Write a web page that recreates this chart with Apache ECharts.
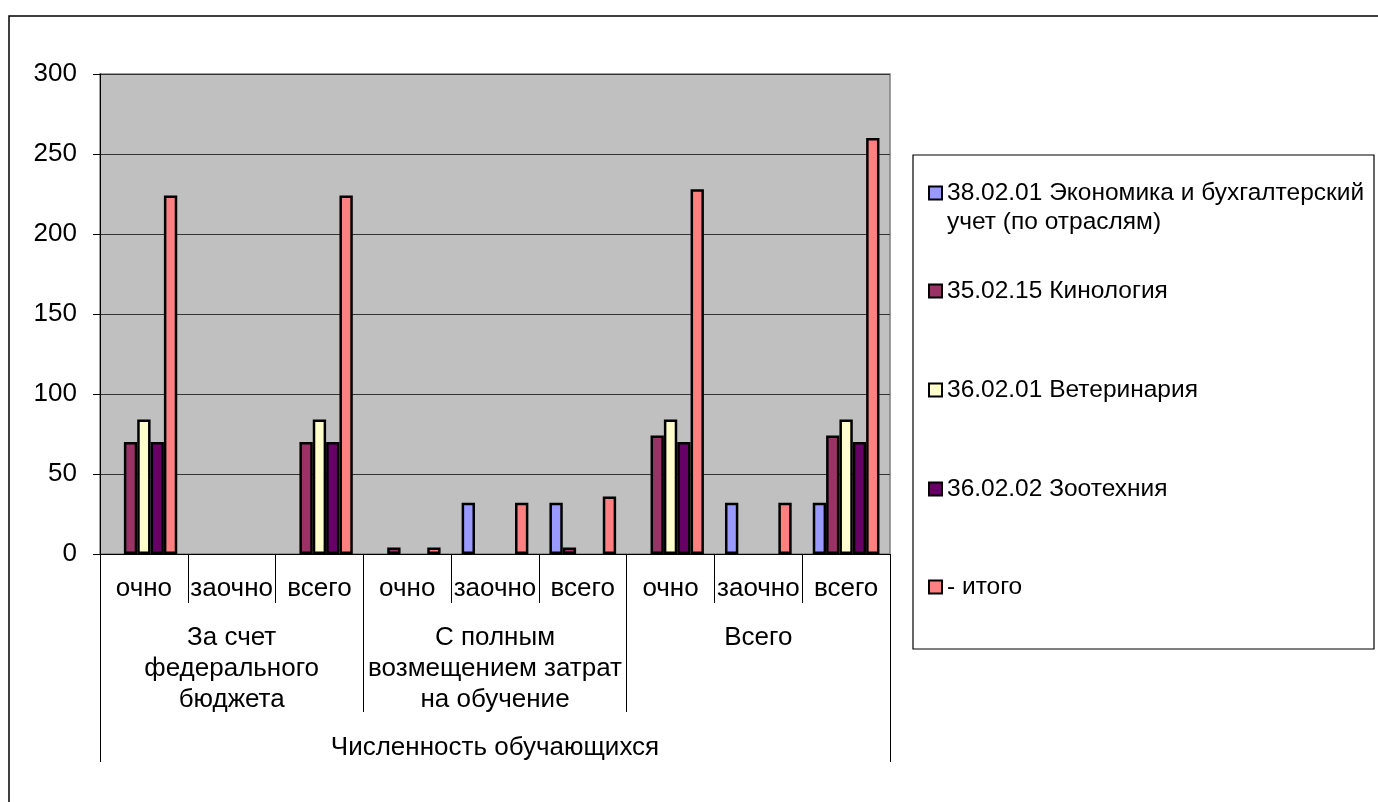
<!DOCTYPE html>
<html>
<head>
<meta charset="utf-8">
<script src="https://cdn.jsdelivr.net/npm/echarts@6/dist/echarts.min.js"></script>
<style>
html,body{margin:0;padding:0;background:#fff;}
#c{width:1378px;height:802px;}
</style>
</head>
<body>
<div id="c"></div>
<script>
// ---- data ----
const categories = ['очно','заочно','всего','очно','заочно','всего','очно','заочно','всего'];
const groups = ['За счет\nфедерального\nбюджета','С полным\nвозмещением затрат\nна обучение','Всего'];
const topLevel = ['Численность обучающихся'];
const seriesNames = [
  '38.02.01 Экономика и бухгалтерский учет (по отраслям)',
  '35.02.15 Кинология',
  '36.02.01 Ветеринария',
  '36.02.02 Зоотехния',
  '- итого'
];
const economics  = [0, 0, 0,   0, 32, 32,   0, 32, 32];
const kinology   = [70, 0, 70, 4, 0, 4,     74, 0, 74];
const veterinary = [84, 0, 84, 0, 0, 0,     84, 0, 84];
const zootechny  = [70, 0, 70, 0, 0, 0,     70, 0, 70];
const total      = [224, 0, 224, 4, 32, 36, 228, 32, 260];
const yTicks = [0, 50, 100, 150, 200, 250, 300];

const seriesValues = [economics, kinology, veterinary, zootechny, total];
const colors = ['#9999FF', '#993366', '#FFFFCC', '#660066', '#FF8080'];

const FONT = "'Liberation Sans', Arial, sans-serif";
const FS = 26;

const series = seriesNames.map((n, i) => ({
  name: n,
  type: 'bar',
  xAxisIndex: 0,
  yAxisIndex: 0,
  barGap: '0%',
  barCategoryGap: '24%',
  data: seriesValues[i].map(v => v === 0 ? '-' : v),
  itemStyle: { color: colors[i], borderColor: '#000', borderWidth: 2.5 },
  emphasis: { disabled: true }
}));

// legends: one component per entry
const legendTops = [149.5, 276.5, 375.5, 474.5, 572.5];
const legends = seriesNames.map((n, i) => {
  const lg = {
    data: [n],
    orient: 'vertical',
    left: 928,
    top: legendTops[i],
    padding: 0,
    selectedMode: false,
    icon: 'rect',
    itemWidth: 13,
    itemHeight: 13,
    itemStyle: { borderColor: '#000', borderWidth: 2 },
    textStyle: { fontFamily: FONT, fontSize: 24.5, color: '#000', lineHeight: 29 }
  };
  if (i === 0) {
    // empty first line keeps the marker level with the first text line
    lg.formatter = () => ' \n38.02.01 Экономика и бухгалтерский\nучет (по отраслям)';
  }
  return lg;
});

const chart = echarts.init(document.getElementById('c'), null, { renderer: 'canvas' });
chart.setOption({
  animation: false,
  backgroundColor: '#fff',
  graphic: [
    { type: 'rect', shape: { x: 9, y: 16, width: 1420, height: 820 }, style: { fill: null, stroke: '#000', lineWidth: 1.5 }, silent: true },
    { type: 'rect', shape: { x: 913, y: 155, width: 461, height: 494 }, style: { fill: null, stroke: '#000', lineWidth: 1.2 }, silent: true }
  ],
  legend: legends,
  grid: {
    left: 100, top: 74, width: 790, height: 480,
    show: true, backgroundColor: '#C0C0C0', borderColor: '#808080', borderWidth: 1.5
  },
  xAxis: [
    {
      type: 'category', position: 'bottom', data: categories, gridIndex: 0,
      axisLine: { show: true, lineStyle: { color: '#000', width: 1 } },
      axisTick: { show: true, interval: 0, length: 49, lineStyle: { color: '#000', width: 1 } },
      axisLabel: { interval: 0, margin: 20, fontFamily: FONT, fontSize: FS, color: '#000', lineHeight: 30 }
    },
    {
      type: 'category', position: 'bottom', data: groups, gridIndex: 0,
      axisLine: { show: false },
      axisTick: { show: true, interval: 0, length: 158, lineStyle: { color: '#000', width: 1 } },
      axisLabel: { interval: 0, margin: 68, fontFamily: FONT, fontSize: FS, color: '#000', lineHeight: 31 }
    },
    {
      type: 'category', position: 'bottom', data: topLevel, gridIndex: 0,
      axisLine: { show: false },
      axisTick: { show: true, interval: 0, length: 208, lineStyle: { color: '#000', width: 1 } },
      axisLabel: { interval: 0, margin: 178, fontFamily: FONT, fontSize: FS, color: '#000', lineHeight: 31 }
    }
  ],
  yAxis: {
    type: 'value', min: yTicks[0], max: yTicks[yTicks.length - 1], interval: yTicks[1] - yTicks[0],
    axisLine: { show: true, lineStyle: { color: '#000', width: 1 } },
    axisTick: { show: true, length: 7, lineStyle: { color: '#000', width: 1 } },
    axisLabel: { margin: 23, fontFamily: FONT, fontSize: FS, color: '#000', lineHeight: 30 },
    splitLine: { show: true, lineStyle: { color: '#333', width: 1 } }
  },
  series: series
});
</script>
</body>
</html>
